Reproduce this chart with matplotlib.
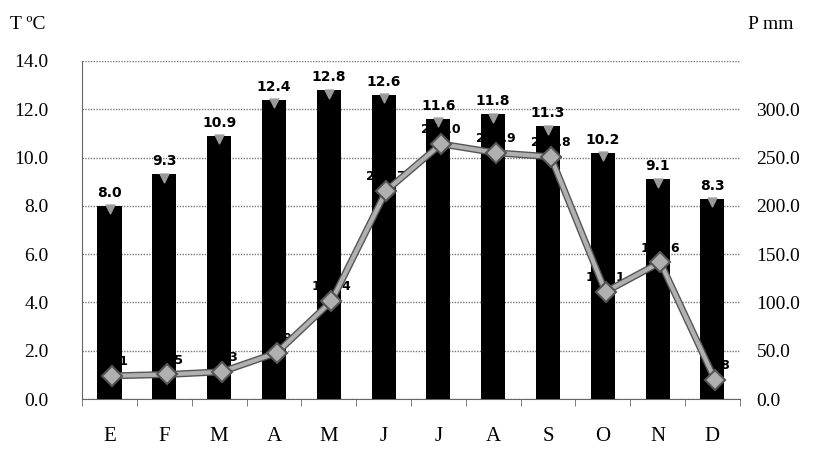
import matplotlib.pyplot as plt
import numpy as np

# ============================================================
# Data
# ============================================================
months = ["E", "F", "M", "A", "M", "J", "J", "A", "S", "O", "N", "D"]
temp_c = [8.0, 9.3, 10.9, 12.4, 12.8, 12.6, 11.6, 11.8, 11.3, 10.2, 9.1, 8.3]
precip_mm = [24.1, 25.5, 28.3, 47.9, 101.4, 215.7, 264.0, 254.9, 250.8, 111.1, 141.6, 19.8]

temp_ticks = np.arange(0, 14.1, 2.0)
precip_ticks = np.arange(0, 350.1, 50.0)

# ============================================================
# Figure
# ============================================================
plt.rcParams["font.family"] = ["Liberation Serif", "DejaVu Serif"]

fig = plt.figure(figsize=(8.13, 4.51), dpi=100)
ax = fig.add_axes([0.101, 0.115, 0.809, 0.75])
ax2 = ax.twinx()

x = np.arange(len(months))

# bars (temperature)
ax.bar(x, temp_c, width=0.44, color="black", zorder=3)
ax.scatter(x, np.array(temp_c) - 0.15, marker="v", s=40, color="#9a9a9a", zorder=4)
for xi, t in zip(x, temp_c):
    ax.text(xi, t + 0.25, f"{t:.1f}", ha="center", va="bottom",
            fontsize=10, fontweight="bold", family=["DejaVu Sans"], zorder=5)

# line (precipitation)
ax2.plot(x + 0.05, precip_mm, color="#555555", lw=5, zorder=3)
ax2.plot(x + 0.05, precip_mm, color="#b0b0b0", lw=3, marker="D", ms=10,
         mfc="#b0b0b0", mec="#555555", mew=1.5, zorder=4)
for xi, p in zip(x, precip_mm):
    ax2.text(xi + 0.05, p + 8, f"{p:.1f}", ha="center", va="bottom",
             fontsize=9, fontweight="bold", family=["DejaVu Sans"], zorder=2)

# axes formatting
ax.set_xlim(-0.5, 11.5)
ax.set_ylim(0, 14)
ax2.set_ylim(0, 350)
ax.set_yticks(temp_ticks)
ax.set_yticklabels([f"{v:.1f}" for v in temp_ticks], fontsize=14)
ax2.set_yticks(precip_ticks[:-1])
ax2.set_yticklabels([f"{v:.1f}" for v in precip_ticks[:-1]], fontsize=14)

ax.set_xticks(x)
ax.set_xticklabels(months, fontsize=15)
ax.set_xticks(np.arange(-0.5, 12, 1), minor=True)
ax.tick_params(axis="x", which="major", length=0, pad=20)
ax.tick_params(axis="x", which="minor", length=5, color="#666666")
ax.tick_params(axis="y", length=0, pad=24)
ax2.tick_params(axis="y", length=0, pad=12)

ax.yaxis.grid(True, linestyle=(0, (1, 1)), color="#777777", lw=1, zorder=0)
ax.set_axisbelow(True)
for sp in ["top", "right"]:
    ax.spines[sp].set_visible(False)
for sp in ["top", "right", "left", "bottom"]:
    ax2.spines[sp].set_visible(False)
ax.spines["left"].set_color("#666666")
ax.spines["left"].set_linestyle((0, (1, 1)))
ax.spines["bottom"].set_color("#666666")

fig.text(0.012, 0.945, "T ºC", fontsize=14, ha="left", va="center")
fig.text(0.92, 0.945, "P mm", fontsize=14, ha="left", va="center")

fig.savefig("out.png", dpi=100)
